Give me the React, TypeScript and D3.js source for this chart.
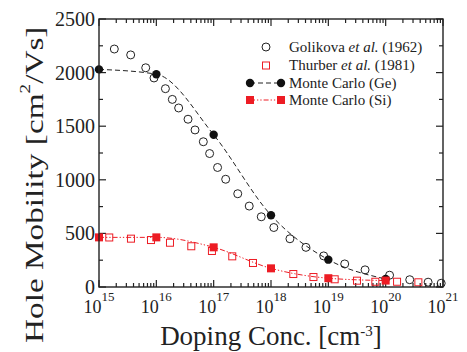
import React from 'react';
import * as d3 from 'd3';

// Golikova et al. (1962) - open circles
const golikovaN = [1.85e15, 3.57e15, 6.53e15, 9.1e15, 1.44e16, 1.9e16, 2.45e16, 3.57e16, 4.73e16, 6.6e16, 8.5e16, 1.17e17, 1.62e17, 2.63e17, 4.17e17, 6.76e17, 1.12e18, 2.14e18, 4.07e18, 8.3e18, 1.93e19, 4.37e19, 1.17e20, 2.63e20, 5.5e20, 9.3e20];
const golikovaMu = [2220, 2165, 2045, 1950, 1850, 1750, 1670, 1565, 1465, 1355, 1245, 1115, 1005, 870, 755, 655, 555, 450, 370, 290, 215, 160, 110, 68, 45, 35];

// Thurber et al. (1981) - open squares
const thurberN = [1.51e15, 3.61e15, 8.07e15, 1.73e16, 4.07e16, 9.33e16, 2.11e17, 4.85e17, 2.45e18, 5.5e18, 1.29e19, 3.16e19, 6.6e19, 1.58e20, 3.72e20];
const thurberMu = [462, 451, 438, 413, 380, 336, 286, 224, 121, 93, 72, 59, 49, 49, 44];

// Monte Carlo results
const mcN = [1e15, 1e16, 1e17, 1e18, 1e19, 1e20];
const mcGe = [2030, 1985, 1420, 670, 255, 75];
const mcSi = [463, 463, 370, 174, 82, 60];

const yTicks = [0, 500, 1000, 1500, 2000, 2500];
const xExponents = [15, 16, 17, 18, 19, 20, 21];

const RED = '#ed1c24';
const FONT = "'Liberation Serif', 'DejaVu Serif', serif";

export default function App() {
  const width = 467;
  const height = 352;
  const m = { left: 99, right: 443, top: 19, bottom: 287 };

  const x = d3.scaleLog().domain([1e15, 1e21]).range([m.left, m.right]);
  const y = d3.scaleLinear().domain([0, 2500]).range([m.bottom, m.top]);

  const minorX = x.ticks().filter(v => Math.abs(Math.log10(v) - Math.round(Math.log10(v))) > 1e-6);
  const minorY = d3.range(250, 2500, 500);

  const line = d3.line<[number, number]>()
    .x(d => x(d[0]))
    .y(d => y(d[1]))
    .curve(d3.curveMonotoneX);

  const gePath = line(mcN.map((n, i) => [n, mcGe[i]]) as [number, number][]) || '';
  const siPath = line(mcN.map((n, i) => [n, mcSi[i]]) as [number, number][]) || '';

  const ax = { stroke: '#222', strokeWidth: 1.2 };

  return (
    <svg width={width} height={height} style={{ position: 'absolute', left: 0, top: 0, background: '#fff', fontFamily: FONT }}>
      {/* ticks */}
      <g {...ax}>
        {yTicks.map(v => (
          <g key={'yt' + v}>
            <line x1={m.left} x2={m.left + 7} y1={y(v)} y2={y(v)} />
            <line x1={m.right} x2={m.right - 7} y1={y(v)} y2={y(v)} />
          </g>
        ))}
        {minorY.map(v => (
          <g key={'ym' + v}>
            <line x1={m.left} x2={m.left + 4} y1={y(v)} y2={y(v)} />
            <line x1={m.right} x2={m.right - 4} y1={y(v)} y2={y(v)} />
          </g>
        ))}
        {xExponents.map(e => (
          <g key={'xt' + e}>
            <line x1={x(10 ** e)} x2={x(10 ** e)} y1={m.bottom} y2={m.bottom - 7} />
            <line x1={x(10 ** e)} x2={x(10 ** e)} y1={m.top} y2={m.top + 7} />
          </g>
        ))}
        {minorX.map((v, i) => (
          <g key={'xm' + i}>
            <line x1={x(v)} x2={x(v)} y1={m.bottom} y2={m.bottom - 4} />
            <line x1={x(v)} x2={x(v)} y1={m.top} y2={m.top + 4} />
          </g>
        ))}
      </g>

      {/* lines */}
      <path d={gePath} fill="none" stroke="#222" strokeWidth={1} strokeDasharray="5,3" />
      <path d={siPath} fill="none" stroke={RED} strokeWidth={1} strokeDasharray="5,2,1.3,2,1.3,2" />

      {/* Golikova */}
      {golikovaN.map((n, i) => (
        <circle key={'g' + i} cx={x(n)} cy={y(golikovaMu[i])} r={4} fill="none" stroke="#222" strokeWidth={1} />
      ))}
      {/* Thurber */}
      {thurberN.map((n, i) => (
        <rect key={'t' + i} x={x(n) - 3.5} y={y(thurberMu[i]) - 3.5} width={7} height={7} fill="none" stroke={RED} strokeWidth={1} />
      ))}
      {/* Monte Carlo */}
      {mcN.map((n, i) => (
        <circle key={'mg' + i} cx={x(n)} cy={y(mcGe[i])} r={4.2} fill="#111" />
      ))}
      {mcN.map((n, i) => (
        <rect key={'ms' + i} x={x(n) - 4} y={y(mcSi[i]) - 4} width={8} height={8} fill={RED} />
      ))}

      {/* frame */}
      <rect x={m.left} y={m.top} width={m.right - m.left} height={m.bottom - m.top} fill="none" stroke="#222" strokeWidth={1.4} />

      {/* y tick labels */}
      {yTicks.map(v => (
        <text key={'yl' + v} x={95} y={y(v) + 7} textAnchor="end" fontSize={20} fill="#222">{v}</text>
      ))}
      {/* x tick labels */}
      {xExponents.map(e => (
        <text key={'xl' + e} x={x(10 ** e)} y={313} textAnchor="middle" fontSize={18} fill="#222">
          10<tspan fontSize={13} dy={-12}>{e}</tspan>
        </text>
      ))}

      {/* axis titles */}
      <text x={271} y={345} textAnchor="middle" fontSize={27} fill="#222">
        Doping Conc. [cm<tspan fontSize={15} dy={-9}>-3</tspan><tspan dy={9}>]</tspan>
      </text>
      <text transform="translate(43,343) rotate(-90) scale(1.28,1)" fontSize={26} fill="#222">
        Hole Mobility [cm<tspan fontSize={15} dy={-13}>2</tspan><tspan dy={13}>/Vs]</tspan>
      </text>

      {/* legend */}
      <g fontSize={15} fill="#222">
        <circle cx={266} cy={47} r={4} fill="none" stroke="#222" strokeWidth={1} />
        <text x={289} y={52}>Golikova <tspan fontStyle="italic">et al.</tspan> (1962)</text>

        <rect x={262.5} y={62} width={7} height={7} fill="none" stroke={RED} strokeWidth={1} />
        <text x={289} y={70}>Thurber <tspan fontStyle="italic">et al.</tspan> (1981)</text>

        <line x1={250} x2={281} y1={83} y2={83} stroke="#222" strokeWidth={1} strokeDasharray="5,3" />
        <circle cx={250} cy={83} r={4.2} fill="#111" />
        <circle cx={281} cy={83} r={4.2} fill="#111" />
        <text x={289} y={87.5}>Monte Carlo (Ge)</text>

        <line x1={250} x2={281} y1={100} y2={100} stroke={RED} strokeWidth={1} strokeDasharray="5,2,1.3,2,1.3,2" />
        <rect x={246} y={96} width={8} height={8} fill={RED} />
        <rect x={277} y={96} width={8} height={8} fill={RED} />
        <text x={289} y={105}>Monte Carlo (Si)</text>
      </g>
    </svg>
  );
}
